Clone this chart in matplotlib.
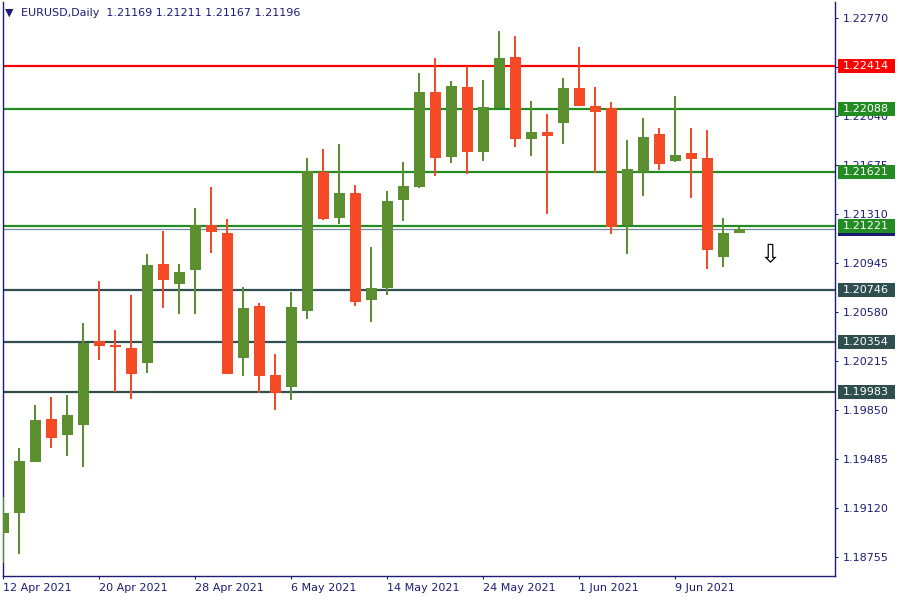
import matplotlib
matplotlib.use("Agg")
import matplotlib.pyplot as plt
import matplotlib.transforms as mtransforms
from matplotlib.patches import Rectangle

# ---- data ----
dates = ["12 Apr 2021", "20 Apr 2021", "28 Apr 2021", "6 May 2021",
         "14 May 2021", "24 May 2021", "1 Jun 2021", "9 Jun 2021"]
date_idx = [0, 6, 12, 18, 24, 30, 36, 42]

opens = [1.18937, 1.19086, 1.19465, 1.19783, 1.19664, 1.19741, 1.20364, 1.20337,
         1.20312, 1.20203, 1.20938, 1.20791, 1.20895, 1.21228, 1.21168, 1.20240,
         1.20625, 1.20111, 1.20024, 1.20590, 1.21622, 1.21277, 1.21466, 1.20672,
         1.20761, 1.21416, 1.21513, 1.22218, 1.21732, 1.22255, 1.21774, 1.22101,
         1.22479, 1.21870, 1.21920, 1.21990, 1.22248, 1.22114, 1.22099, 1.21230,
         1.21620, 1.21905, 1.21704, 1.21764, 1.21727, 1.20992, 1.21169]
highs = [1.19205, 1.19570, 1.19888, 1.19947, 1.19962, 1.20498, 1.20813, 1.20446,
         1.20707, 1.21012, 1.21185, 1.20938, 1.21354, 1.21511, 1.21273, 1.20766,
         1.20647, 1.20267, 1.20729, 1.21727, 1.21794, 1.21831, 1.21526, 1.21064,
         1.21481, 1.21697, 1.22360, 1.22471, 1.22300, 1.22414, 1.22308, 1.22672,
         1.22635, 1.22151, 1.22054, 1.22322, 1.22553, 1.22255, 1.22144, 1.21861,
         1.22025, 1.21950, 1.22188, 1.21950, 1.21935, 1.21280, 1.21211]
lows = [1.18713, 1.18780, 1.19460, 1.19570, 1.19508, 1.19428, 1.20223, 1.19987,
        1.19932, 1.20128, 1.20612, 1.20567, 1.20567, 1.21022, 1.20118, 1.20106,
        1.19979, 1.19853, 1.19927, 1.20530, 1.21268, 1.21238, 1.20627, 1.20508,
        1.20709, 1.21260, 1.21506, 1.21595, 1.21692, 1.21610, 1.21707, 1.22099,
        1.21811, 1.21744, 1.21312, 1.21833, 1.22116, 1.21613, 1.21163, 1.21014,
        1.21446, 1.21640, 1.21700, 1.21431, 1.20902, 1.20917, 1.21167]
closes = [1.19086, 1.19471, 1.19776, 1.19644, 1.19813, 1.20349, 1.20329, 1.20322,
          1.20121, 1.20930, 1.20821, 1.20878, 1.21226, 1.21178, 1.20121, 1.20610,
          1.20106, 1.19979, 1.20617, 1.21630, 1.21275, 1.21466, 1.20657, 1.20759,
          1.21407, 1.21518, 1.22218, 1.21729, 1.22263, 1.21774, 1.22106, 1.22471,
          1.21870, 1.21920, 1.21893, 1.22248, 1.22116, 1.22071, 1.21215, 1.21645,
          1.21883, 1.21684, 1.21749, 1.21722, 1.21044, 1.21168, 1.21196]

levels = [1.22414, 1.22088, 1.21621, 1.21221, 1.20746, 1.20354, 1.19983]
level_colors = ["#FF0000", "#228B22", "#228B22", "#228B22",
                "#2F4F4F", "#2F4F4F", "#2F4F4F"]
bid = 1.21196
price_ticks = [1.18755, 1.19120, 1.19485, 1.19850, 1.20215, 1.20580,
               1.20945, 1.21310, 1.21675, 1.22040, 1.22405, 1.22770]
header = "EURUSD,Daily  1.21169 1.21211 1.21167 1.21196"
arrow_pos = (47.9, 1.21004)

# ---- style ----
UP = "#5B8F30"
DN = "#F44B26"
NAVY = "#1C1C78"
FS = 8.0

fig = plt.figure(figsize=(9, 6), dpi=100)
W, H = 900, 600
ax = fig.add_axes([2.5 / W, 24 / H, (835 - 2.5) / W, (576 - 2) / H])
ax.set_xlim(-0.0625, 51.97)
ax.set_ylim(1.18614, 1.22888)

# levels (behind candles)
for lv, col in zip(levels, level_colors):
    ax.axhline(lv, color=col, lw=1.6, zorder=1)
ax.axhline(bid, color="#778899", lw=0.9, zorder=1)

# candles
n = len(opens)
xs = list(range(n))
for i in xs:
    o, h, l, c = opens[i], highs[i], lows[i], closes[i]
    col = UP if c >= o else DN
    ax.vlines(i, l, h, color=col, lw=1.1, zorder=3, antialiased=False)
    ax.bar(i, abs(c - o), bottom=min(o, c), width=0.69, color=col,
           linewidth=0, zorder=4)

# arrow
ax.text(arrow_pos[0], arrow_pos[1], "\u21e9", fontsize=18, ha="center",
        va="center", color="black", zorder=5)

# spines
ax.spines["top"].set_visible(False)
for s in ["left", "right", "bottom"]:
    ax.spines[s].set_color(NAVY)
    ax.spines[s].set_linewidth(1.0)

# y axis on right
ax.yaxis.tick_right()
ax.set_yticks(price_ticks)
ax.set_yticklabels([f"{p:.5f}" for p in price_ticks])
ax.tick_params(axis="y", which="both", direction="out", length=2.2, width=0.8,
               color=NAVY, labelcolor=NAVY, labelsize=FS, pad=3.4, left=False)
for lab in ax.get_yticklabels():
    lab.set_horizontalalignment("left")

# x axis
ax.set_xticks(date_idx)
ax.set_xticklabels(dates)
ax.tick_params(axis="x", direction="out", length=2.2, width=0.8, color=NAVY,
               labelcolor=NAVY, labelsize=FS, pad=2.5)
for lab in ax.get_xticklabels():
    lab.set_horizontalalignment("left")

# level labels on right
trans = mtransforms.blended_transform_factory(ax.transAxes, ax.transData)
px_y = (1.22888 - 1.18614) / 574.0
px_x = 1.0 / 832.5
box_h = 14 * px_y
box_w = 57 * px_x
box_x = 1.0 + 2.5 * px_x
# bid label (mostly hidden)
ax.add_patch(Rectangle((box_x, bid - box_h / 2), box_w, box_h, transform=trans,
                       facecolor="#191970", edgecolor="none", clip_on=False,
                       zorder=6))
for lv, col in zip(levels, level_colors):
    ax.add_patch(Rectangle((box_x, lv - box_h / 2), box_w, box_h,
                           transform=trans, facecolor=col, edgecolor="none",
                           clip_on=False, zorder=7))
    ax.text(box_x + 5 * px_x, lv, f"{lv:.5f}", transform=trans, color="white",
            fontsize=FS, ha="left", va="center", clip_on=False, zorder=8)

# header
fig.text(5 / W, 1 - 13 / H, "\u25bc", fontsize=8, color=NAVY, ha="left",
         va="center")
fig.text(21 / W, 1 - 13 / H, header, fontsize=FS, color=NAVY, ha="left",
         va="center")

fig.savefig("out.png", dpi=100)
